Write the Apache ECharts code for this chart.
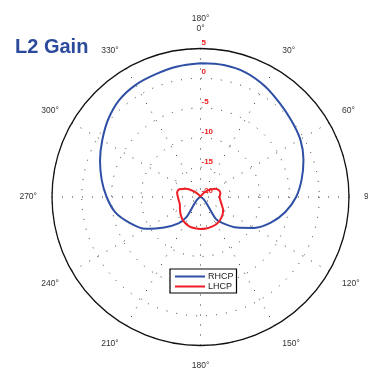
<!DOCTYPE html>
<html>
<head>
<meta charset="utf-8">
<script src="https://cdn.jsdelivr.net/npm/echarts@6/dist/echarts.min.js"></script>
<style>
html,body{margin:0;padding:0;background:#fff;}
#c{width:368px;height:371px;}
</style>
</head>
<body>
<div id="c"></div>
<script>
// Angle tick labels (clockwise from top)
var angleTicks = [0, 30, 60, 90, 120, 150, 180, 210, 240, 270, 300, 330];
var radialTicks = [-20, -15, -10, -5, 0, 5];

// RHCP gain (dB) vs angle (deg)
var rhcpAngles = [0,10,20,30,40,50,60,70,80,90,100,110,120,130,140,145,150,160,170,180,190,200,210,215,220,230,240,250,260,270,280,290,300,310,320,330,340,350,360];
var rhcpGain   = [2.5,2.55,2.3,1.6,0.7,0.0,-0.6,-1.55,-2.7,-3.9,-5.5,-7.4,-9.6,-12.0,-14.3,-15.5,-20,-20,-20,-20,-20,-20,-20,-15.8,-14.2,-12.0,-9.3,-7.3,-5.4,-4.2,-3.1,-2.0,-0.9,0.3,1.3,1.8,2.0,2.3,2.5];

// LHCP gain (dB) vs angle (deg)
var lhcpAngles = [0,10,20,30,40,50,60,70,80,90,100,110,120,130,140,150,160,170,180,190,200,210,220,230,240,250,260,270,280,290,300,310,320,330,340,350,360];
var lhcpGain   = [-20,-20,-20,-19.7,-19.0,-18.2,-17.2,-16.7,-16.6,-16.8,-16.6,-16.2,-15.6,-15.2,-14.9,-14.7,-14.65,-14.6,-14.6,-14.65,-14.7,-14.9,-15.2,-15.6,-16.0,-16.3,-16.3,-16.2,-16.0,-16.2,-17.2,-18.5,-19.4,-19.9,-20,-20,-20];

function zip(r, a){ return a.map(function(v,i){ return [r[i], v]; }); }

var chart = echarts.init(document.getElementById('c'), null, {renderer:'canvas'});
chart.setOption({
  animation: false,
  backgroundColor: '#fff',
  title: {
    text: 'L2 Gain', left: 10, top: 32,
    textStyle: {color:'#2B4A9C', fontSize: 20, fontWeight:'bold', fontFamily:'Liberation Sans, Arial, sans-serif'}
  },
  legend: {
    orient: 'vertical', left: 170, top: 269,
    backgroundColor: '#fff', borderColor: '#000', borderWidth: 1.2,
    padding: [3, 3, 2, 5], itemGap: 1, itemWidth: 30, itemHeight: 2,
    textStyle: {fontSize: 9, color:'#222', fontFamily:'Liberation Sans, Arial, sans-serif', padding:[0,0,0,-2]},
    data: [{name:'RHCP', icon:'rect'}, {name:'LHCP', icon:'rect'}]
  },
  polar: { center: [200.5, 197], radius: 148.5 },
  angleAxis: {
    type: 'value', min: 0, max: 360, interval: 30, startAngle: 90, clockwise: true,
    axisLine: {show: true, lineStyle: {color:'#111', width: 1.3}},
    axisTick: {show: false},
    axisLabel: {
      margin: 15, color:'#333', fontSize: 8.5, fontFamily:'Liberation Sans, Arial, sans-serif', lineHeight: 10,
      formatter: function(v){
        if (v === 360) return '';
        if (v === 0) return '180°\n0°';
        return v + '°';
      }
    },
    splitLine: {show: true, lineStyle: {color:'#333', width: 1, type: [1, 9]}}
  },
  radiusAxis: {
    type: 'value', min: -20, max: 5, interval: 5,
    axisLine: {show: false}, axisTick: {show: false},
    axisLabel: {
      show: true, margin: -1, align: 'left', verticalAlign: 'bottom',
      color: '#F02020', fontSize: 8, fontWeight: 'bold', fontFamily:'Liberation Sans, Arial, sans-serif',
      padding: [0,0,2,0]
    },
    splitLine: {show: true, lineStyle: {color:'#333', width: 1, type: [1, 9]}}
  },
  series: [
    {name:'RHCP', type:'line', coordinateSystem:'polar', data: zip(rhcpGain, rhcpAngles),
     symbol:'none', smooth: 0.3, lineStyle:{color:'#2E4FA5', width:2}, itemStyle:{color:'#2E4FA5'}, z: 3},
    {name:'LHCP', type:'line', coordinateSystem:'polar', data: zip(lhcpGain, lhcpAngles),
     symbol:'none', smooth: 0.3, lineStyle:{color:'#EE1C24', width:2}, itemStyle:{color:'#EE1C24'}, z: 4}
  ]
});
</script>
</body>
</html>
